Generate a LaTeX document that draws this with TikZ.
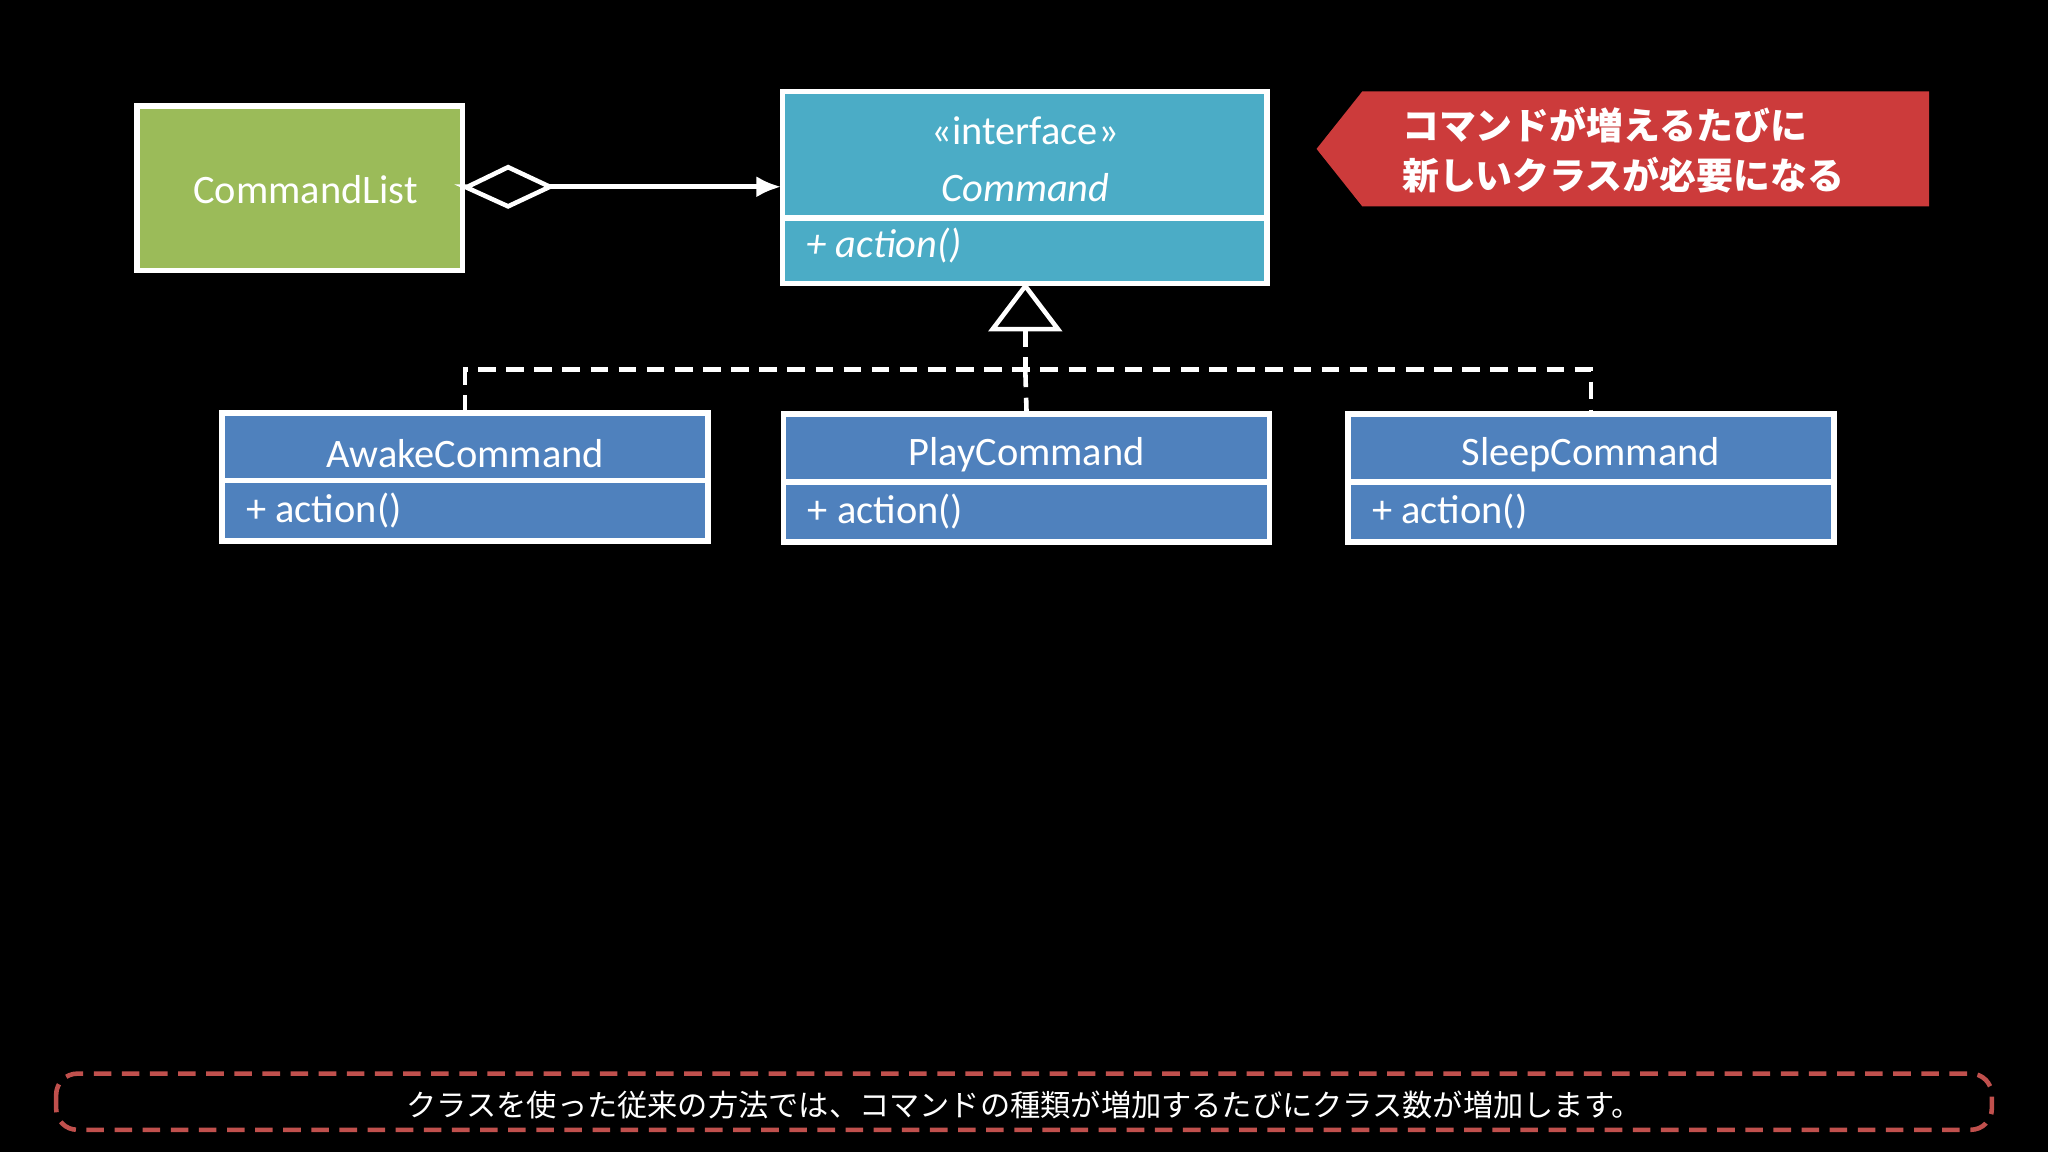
\documentclass[tikz,border=0pt]{standalone}
\usepackage{fontspec}
\setmainfont{Carlito}
\newfontfamily\cjk{Noto Sans CJK JP}
\usetikzlibrary{arrows.meta,shapes.geometric}
\definecolor{olive}{HTML}{9BBB59}
\definecolor{teal}{HTML}{4BACC6}
\definecolor{blu}{HTML}{4F81BD}
\definecolor{callred}{HTML}{CC3B3B}
\definecolor{dred}{HTML}{C0504D}
\begin{document}
\begin{tikzpicture}[x=0.01306cm,y=-0.01306cm,
  box/.style={draw=white,line width=1.6pt},
  txt/.style={text=white,font=\fontsize{11.5}{13}\selectfont,inner sep=0pt},
  conn/.style={white,line width=1.3pt}]
\fill[black] (0,0) rectangle (1568,882);
\useasboundingbox (0,0) rectangle (1568,882);
% CommandList
\draw[box,fill=olive] (105,81) rectangle (354,207);
\node[txt] (cl) at (234,145) {CommandList};
\coordinate (clr) at (356,143);
% Command interface
\draw[box,fill=teal] (599,70) rectangle (970,217);
\draw[white,line width=1.6pt] (599,167) -- (970,167);
\node[txt] (ci) at (785,100) {<<interface>>};
\node[txt,font=\fontsize{11.5}{13}\selectfont\itshape] (cn) at (785,144) {Command};
\node[txt,anchor=west,font=\fontsize{11.5}{13}\selectfont\itshape] (ca) at (617,188) {+ action()};
\coordinate (cleft) at (598,143);
\coordinate (cbot) at (785,219);
% aggregation
\draw[conn] (clr) -- (358,143) -- (389,128) -- (421,143) -- (389,158) -- cycle;
\coordinate (dtip) at (421,143);
\draw[conn,-{Latex[length=7pt,width=6pt]}] (dtip) -- (cleft);
% subclasses
\foreach \n/\x/\y/\lab in {aw/170/316/AwakeCommand,pl/600/317/PlayCommand,sl/1032/317/SleepCommand}{
  \draw[box,fill=blu] (\x,\y) rectangle ++(372,98);
  \draw[white,line width=1.6pt] (\x,\y+52) -- ++(372,0);
  \node[txt] (\n) at (\x+186,\y+31) {\lab};
  \node[txt,anchor=west] (\n a) at (\x+18,\y+75) {+ action()};
  \coordinate (\n t) at (\x+186,\y);
}
% realization
\coordinate (tb) at (785,252);
\coordinate (bus) at (785,283);
\draw[conn,fill=black] (cbot) -- (760,252) -- (810,252) -- cycle;
\draw[conn,dashed,dash pattern=on 5pt off 3pt] (tb) -- (bus);
\draw[conn,dashed,dash pattern=on 5pt off 3pt] (awt) |- (bus) -| (slt);
\draw[conn,dashed,dash pattern=on 5pt off 3pt] (bus) -- (plt);
% callout
\fill[callred] (1008,114) -- (1043,70) -- (1477,70) -- (1477,158) -- (1043,158) -- cycle;
\node[text=white,font=\cjk\bfseries\fontsize{10.5}{14}\selectfont,align=left,anchor=west,inner sep=0pt] (co) at (1073,115) {コマンドが増えるたびに\\新しいクラスが必要になる};
% bottom
\draw[dred,line width=1.3pt,dash pattern=on 5pt off 3pt,rounded corners=6pt] (43,822) rectangle (1525,865);
\node[text=white,font=\cjk\fontsize{8.6}{10}\selectfont,inner sep=0pt] (cap) at (784,846) {クラスを使った従来の方法では、コマンドの種類が増加するたびにクラス数が増加します。};
\end{tikzpicture}
\end{document}
